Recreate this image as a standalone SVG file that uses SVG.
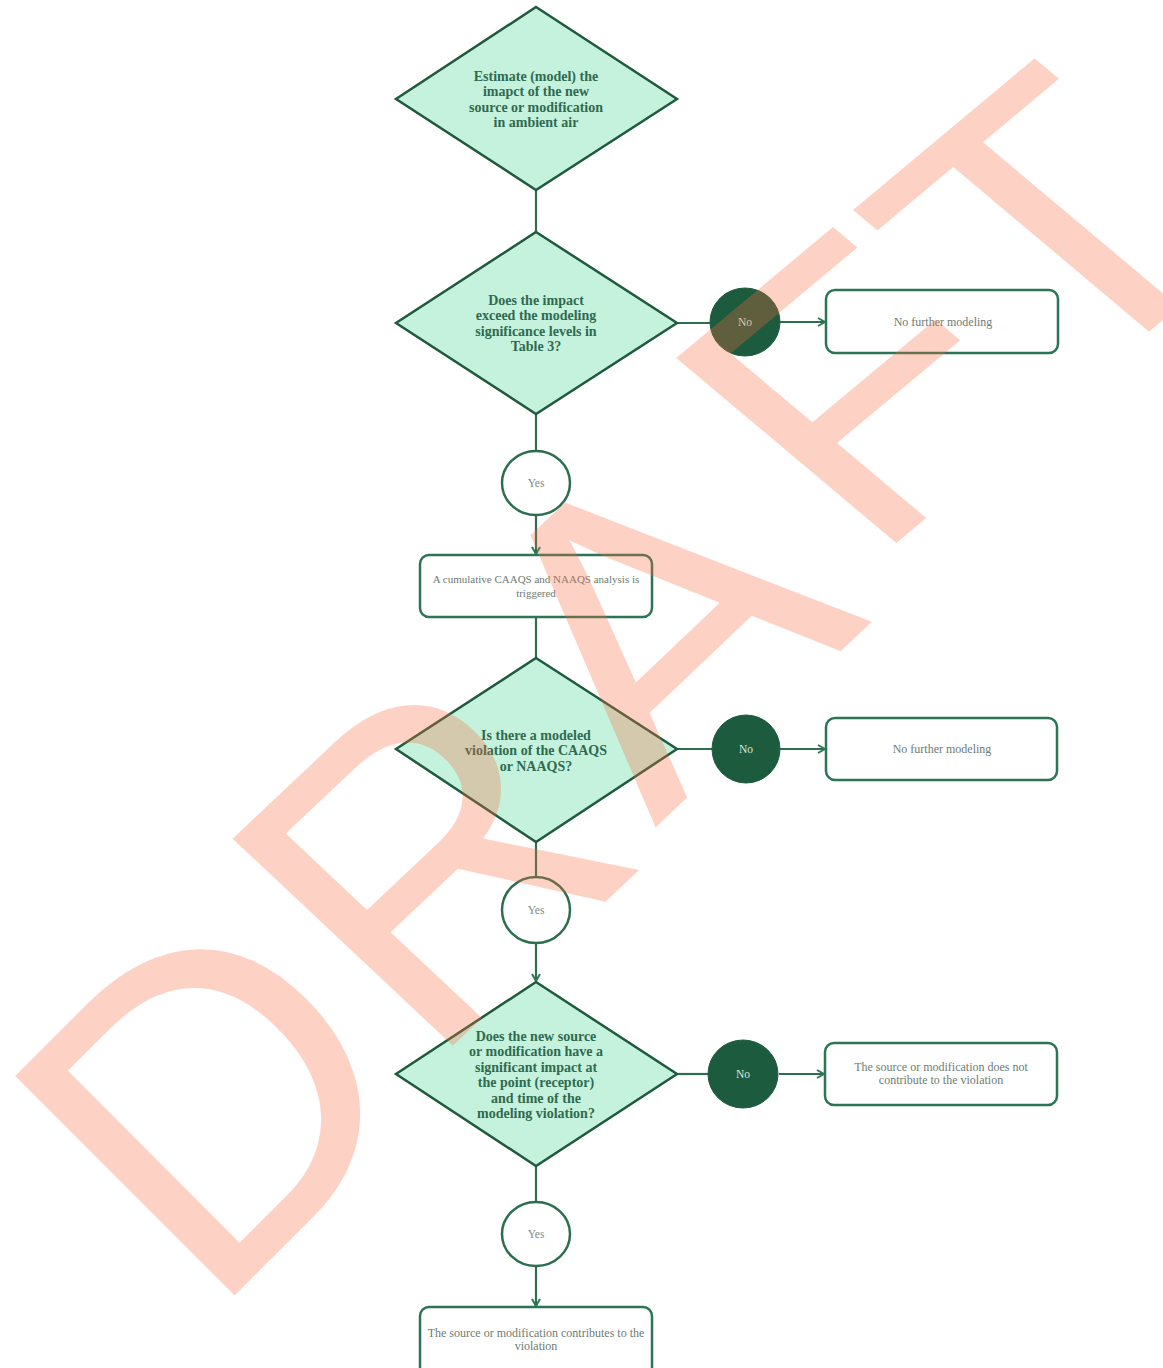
<svg xmlns="http://www.w3.org/2000/svg" width="1163" height="1368" viewBox="0 0 1163 1368">
<style>
.dia{fill:#c5f2dd;stroke:#1f5a3e;stroke-width:2.5}
.dtxt{font-family:"Liberation Serif",serif;font-weight:bold;font-size:14px;fill:#2f6a4f;text-anchor:middle}
.box{fill:#ffffff;stroke:#2b7556;stroke-width:2.5}
.btxt{font-family:"Liberation Serif",serif;font-size:12px;fill:#6d7c74;text-anchor:middle}
.yes{fill:#ffffff;stroke:#2b6e50;stroke-width:2.5}
.ytxt{font-family:"Liberation Serif",serif;font-size:11.5px;fill:#7d8b84;text-anchor:middle}
.no{fill:#1d5b3f;stroke:#1d5b3f;stroke-width:1}
.ntxt{font-family:"Liberation Serif",serif;font-size:11.5px;fill:#d4e8dc;text-anchor:middle}
.con{fill:none;stroke:#2d6d50;stroke-width:2.2}
.wm{font-family:"Liberation Sans",Arial,sans-serif;font-size:100px;fill:#f96a3a;fill-opacity:0.3}
</style>
<defs>
<marker id="arr" markerWidth="10" markerHeight="10" refX="8" refY="5" orient="auto" markerUnits="userSpaceOnUse">
<path d="M1,1 L8,5 L1,9" fill="none" stroke="#2d7a58" stroke-width="2"/>
</marker>
</defs>

<g id="connectors">
<line class="con" x1="536" y1="190" x2="536" y2="232"/>
<line class="con" x1="677" y1="323" x2="711" y2="323"/>
<line class="con" x1="780" y1="322" x2="825" y2="322" marker-end="url(#arr)"/>
<line class="con" x1="536" y1="414" x2="536" y2="450"/>
<line class="con" x1="536" y1="515" x2="536" y2="554" marker-end="url(#arr)"/>
<line class="con" x1="536" y1="617" x2="536" y2="658"/>
<line class="con" x1="677" y1="749" x2="712" y2="749"/>
<line class="con" x1="780" y1="749" x2="825" y2="749" marker-end="url(#arr)"/>
<line class="con" x1="536" y1="842" x2="536" y2="877"/>
<line class="con" x1="536" y1="943" x2="536" y2="981" marker-end="url(#arr)"/>
<line class="con" x1="677" y1="1074" x2="709" y2="1074"/>
<line class="con" x1="779" y1="1074" x2="824" y2="1074" marker-end="url(#arr)"/>
<line class="con" x1="536" y1="1166" x2="536" y2="1202"/>
<line class="con" x1="536" y1="1266" x2="536" y2="1306" marker-end="url(#arr)"/>
</g>

<g id="d1">
<polygon class="dia" points="536,7 677,99 536,190 396,99"/>
<text class="dtxt" x="536" y="81">Estimate (model) the</text>
<text class="dtxt" x="536" y="96">imapct of the new</text>
<text class="dtxt" x="536" y="112">source or modification</text>
<text class="dtxt" x="536" y="127">in ambient air</text>
</g>

<g id="d2">
<polygon class="dia" points="536,232 677,323 536,414 396,323"/>
<text class="dtxt" x="536" y="305">Does the impact</text>
<text class="dtxt" x="536" y="320">exceed the modeling</text>
<text class="dtxt" x="536" y="336">significance levels in</text>
<text class="dtxt" x="536" y="351">Table 3?</text>
</g>

<g id="no1">
<ellipse class="no" cx="745" cy="322" rx="35" ry="34"/>
<text class="ntxt" x="745" y="326">No</text>
</g>

<g id="box1">
<rect class="box" x="826" y="290" width="232" height="63" rx="9"/>
<text class="btxt" x="943" y="326">No further modeling</text>
</g>

<g id="yes1">
<ellipse class="yes" cx="536" cy="483" rx="34" ry="32"/>
<text class="ytxt" x="536" y="487">Yes</text>
</g>

<g id="box2">
<rect class="box" x="420" y="555" width="232" height="62" rx="9"/>
<text class="btxt" x="536" y="583" style="font-size:11px">A cumulative CAAQS and NAAQS analysis is</text>
<text class="btxt" x="536" y="597" style="font-size:11px">triggered</text>
</g>

<g id="d3">
<polygon class="dia" points="536,658 677,749 536,842 396,749"/>
<text class="dtxt" x="536" y="740">Is there a modeled</text>
<text class="dtxt" x="536" y="755">violation of the CAAQS</text>
<text class="dtxt" x="536" y="771">or NAAQS?</text>
</g>

<g id="no2">
<ellipse class="no" cx="746" cy="749" rx="34" ry="34"/>
<text class="ntxt" x="746" y="753">No</text>
</g>

<g id="box3">
<rect class="box" x="826" y="718" width="231" height="62" rx="9"/>
<text class="btxt" x="942" y="753">No further modeling</text>
</g>

<g id="yes2">
<ellipse class="yes" cx="536" cy="910" rx="34" ry="33"/>
<text class="ytxt" x="536" y="914">Yes</text>
</g>

<g id="d4">
<polygon class="dia" points="536,982 677,1074 536,1166 396,1074"/>
<text class="dtxt" x="536" y="1041">Does the new source</text>
<text class="dtxt" x="536" y="1056">or modification have a</text>
<text class="dtxt" x="536" y="1072">significant impact at</text>
<text class="dtxt" x="536" y="1087">the point (receptor)</text>
<text class="dtxt" x="536" y="1103">and time of the</text>
<text class="dtxt" x="536" y="1118">modeling violation?</text>
</g>

<g id="no3">
<ellipse class="no" cx="743" cy="1074" rx="35" ry="34"/>
<text class="ntxt" x="743" y="1078">No</text>
</g>

<g id="box4">
<rect class="box" x="825" y="1043" width="232" height="62" rx="9"/>
<text class="btxt" x="941" y="1071">The source or modification does not</text>
<text class="btxt" x="941" y="1084">contribute to the violation</text>
</g>

<g id="yes3">
<ellipse class="yes" cx="536" cy="1234" rx="34" ry="32"/>
<text class="ytxt" x="536" y="1238">Yes</text>
</g>

<g id="box5">
<rect class="box" x="420" y="1307" width="232" height="70" rx="9"/>
<text class="btxt" x="536" y="1337">The source or modification contributes to the</text>
<text class="btxt" x="536" y="1350">violation</text>
</g>

<g id="watermark">
<text class="wm" transform="matrix(3.11,-3.11,3.19,3.19,209,1321)">D</text>
<text class="wm" transform="matrix(3.14,-2.96,3.20,3.01,427,1070)">R</text>
<text class="wm" transform="matrix(3.26,-3.10,3.15,2.98,655,828)">A</text>
<text class="wm" transform="matrix(3.21,-2.68,3.20,2.69,870,565)">F</text>
<text class="wm" transform="matrix(3.21,-2.68,3.20,2.69,1066,401)">T</text>
</g>
</svg>
